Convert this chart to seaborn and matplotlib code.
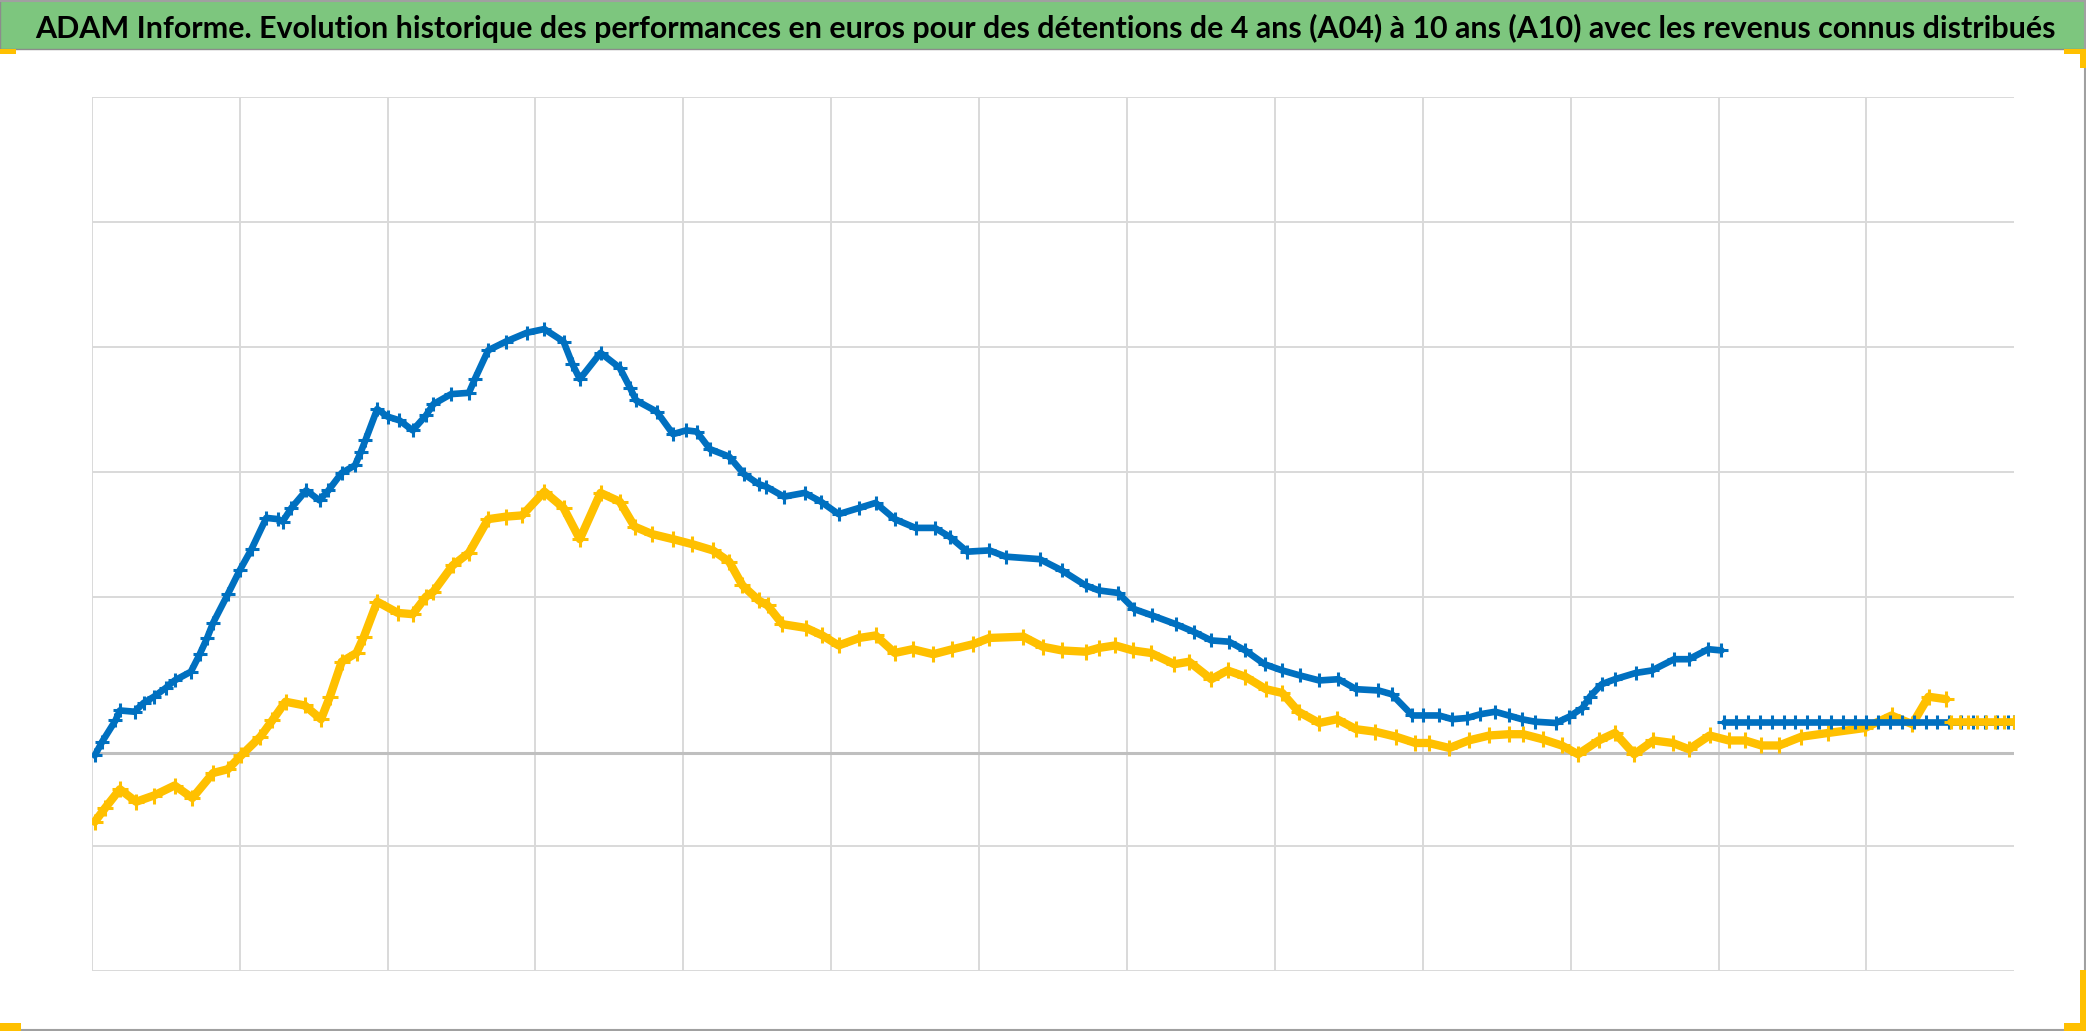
import numpy as np
import pandas as pd
import matplotlib
matplotlib.use("Agg")
import matplotlib.pyplot as plt
import seaborn as sns
from matplotlib.patches import Rectangle
from matplotlib.lines import Line2D

# x in years from start (13 gridline intervals), y in arbitrary euro units (0 = axis line)
blue_x = [0.02, 0.07, 0.16, 0.19, 0.29, 0.35, 0.42, 0.50, 0.56, 0.67,
          0.73, 0.78, 0.82, 0.92, 1.00, 1.08, 1.18, 1.26, 1.29, 1.35,
          1.45, 1.54, 1.60, 1.69, 1.78, 1.82, 1.85, 1.93, 2.00, 2.08,
          2.17, 2.26, 2.31, 2.43, 2.55, 2.59, 2.68, 2.80, 2.94, 3.06,
          3.19, 3.25, 3.30, 3.44, 3.57, 3.64, 3.68, 3.82, 3.93, 4.02,
          4.09, 4.18, 4.31, 4.41, 4.51, 4.56, 4.68, 4.82, 4.93, 5.05,
          5.19, 5.30, 5.43, 5.57, 5.70, 5.80, 5.92, 6.07, 6.18, 6.41,
          6.56, 6.72, 6.81, 6.94, 7.05, 7.17, 7.33, 7.45, 7.57, 7.69,
          7.80, 7.93, 8.05, 8.17, 8.30, 8.43, 8.55, 8.70, 8.79, 8.93,
          9.00, 9.11, 9.20, 9.30, 9.39, 9.49, 9.58, 9.67, 9.76, 9.90,
          9.99, 10.08, 10.13, 10.21, 10.30, 10.44, 10.55, 10.70, 10.80, 10.93, 11.02]
blue_v = [-2, 9, 26, 34, 33, 40, 45, 52, 58, 65,
          79, 92, 104, 127, 146, 163, 188, 187, 185, 196,
          210, 202, 210, 224, 230, 241, 250, 275, 269, 266,
          258, 270, 279, 287, 288, 299, 322, 329, 336, 339,
          329, 311, 299, 320, 308, 292, 282, 273, 255, 258,
          257, 243, 237, 223, 215, 213, 205, 208, 201, 191,
          196, 200, 187, 180, 180, 173, 161, 162, 157, 155,
          146, 134, 130, 128, 115, 110, 103, 97, 90, 89,
          82, 71, 66, 62, 58, 59, 51, 50, 47, 30,
          30, 30, 27, 28, 31, 33, 30, 27, 25, 24,
          29, 36, 45, 55, 59, 64, 66, 75, 75, 83, 82]

blue_flat_x = [11.04, 11.12, 11.20, 11.28, 11.36, 11.44, 11.52, 11.60, 11.68, 11.76,
               11.84, 11.92, 12.00, 12.08, 12.16, 12.24, 12.32, 12.40, 12.48, 12.56,
               12.64, 12.72, 12.80, 12.88, 12.96, 13.00]
blue_flat_v = [24.5, 24.5, 24.5, 24.5, 24.5, 24.5, 24.5, 24.5, 24.5, 24.5,
               24.5, 24.5, 24.5, 24.5, 24.5, 24.5, 24.5, 24.5, 24.5, 24.5,
               24.5, 24.5, 24.5, 24.5, 24.5, 24.5]

yellow_x = [0.02, 0.09, 0.19, 0.30, 0.42, 0.56, 0.68, 0.82, 0.92, 1.01,
            1.14, 1.22, 1.31, 1.44, 1.55, 1.61, 1.69, 1.79, 1.84, 1.93,
            2.07, 2.17, 2.26, 2.31, 2.44, 2.55, 2.68, 2.80, 2.91, 3.06,
            3.19, 3.30, 3.44, 3.57, 3.67, 3.79, 3.93, 4.06, 4.20, 4.31,
            4.40, 4.51, 4.57, 4.67, 4.83, 4.94, 5.05, 5.19, 5.30, 5.43,
            5.55, 5.69, 5.82, 5.96, 6.07, 6.30, 6.43, 6.56, 6.72, 6.81,
            6.92, 7.04, 7.16, 7.32, 7.42, 7.57, 7.68, 7.80, 7.94, 8.05,
            8.16, 8.30, 8.42, 8.55, 8.68, 8.82, 8.95, 9.04, 9.18, 9.31,
            9.45, 9.58, 9.68, 9.81, 9.94, 10.05, 10.19, 10.30, 10.43, 10.56,
            10.69, 10.80, 10.94, 11.07, 11.18, 11.29, 11.41, 11.56, 11.74, 11.99,
            12.17, 12.31, 12.42, 12.54]
yellow_v = [-55, -44, -29, -39, -34, -26, -36, -16, -13, -2,
            13, 26, 41, 38, 27, 45, 73, 80, 93, 121,
            112, 111, 125, 129, 150, 160, 187, 189, 190, 209,
            196, 171, 208, 201, 181, 175, 171, 167, 162, 153,
            134, 122, 118, 103, 100, 94, 86, 92, 94, 80,
            83, 79, 83, 87, 92, 93, 85, 82, 81, 84,
            86, 82, 80, 71, 73, 59, 66, 61, 51, 48,
            33, 24, 27, 19, 17, 13, 8, 8, 4, 10,
            14, 15, 15, 11, 6, -1, 10, 16, -1, 10,
            8, 3, 14, 10, 10, 6, 6, 13, 16, 20,
            30, 23, 45, 43]

yellow_flat_x = [12.57, 12.63, 12.69, 12.75, 12.81, 12.87, 12.93, 13.00]
yellow_flat_v = [24.5, 24.5, 24.5, 24.5, 24.5, 24.5, 24.5, 24.5]

title = ("ADAM Informe. Evolution historique des performances en euros pour des "
         "détentions de 4 ans (A04) à 10 ans (A10) avec les revenus connus distribués")

blue = "#0070C0"
yellow = "#FFC000"

sns.set_style("white")
plt.rcParams['font.family'] = ['Lato', 'DejaVu Sans']

fig = plt.figure(figsize=(20.86, 10.31), dpi=100)
W, H = 2086, 1031
ax = fig.add_axes([91.8 / W, 1 - 971.2 / H, (2014.3 - 91.8) / W, (971.2 - 97.1) / H])

# grid drawn by hand since the reference skips one horizontal line
for xv in range(0, 13):
    ax.axvline(xv, color="#D9D9D9", lw=1.4, zorder=0)
for yv in [-174.5, -74.5, 124.5, 224.5, 324.5, 424.5, 524.5]:
    ax.axhline(yv, color="#D9D9D9", lw=1.4, zorder=0)
ax.axhline(0, color="#BFBFBF", lw=2.2, zorder=1)

def draw(xs, vs, color, lw, ms, z):
    d = pd.DataFrame({"x": xs, "v": vs})
    sns.lineplot(data=d, x="x", y="v", ax=ax, color=color, lw=lw, marker="+",
                 markersize=ms, markeredgewidth=2.2, markeredgecolor=color,
                 zorder=z, sort=False)

draw(yellow_x, yellow_v, yellow, 6.0, 11, 3)
draw(blue_x, blue_v, blue, 4.8, 10, 4)
draw(blue_flat_x, blue_flat_v, blue, 4.8, 10, 4)
draw(yellow_flat_x, yellow_flat_v, yellow, 5.5, 10, 5)

ax.set_xlim(0, 13)
ax.set_ylim(-174.5, 524.5)
ax.set_xticks([])
ax.set_yticks([])
ax.set_xlabel("")
ax.set_ylabel("")
for s in ax.spines.values():
    s.set_visible(False)

# title bar
fig.patches.append(Rectangle((0, 1 - 49 / H), 1, 49 / H, transform=fig.transFigure,
                             facecolor="#7DC67E", edgecolor="#8C8C8C", lw=1.0, zorder=0))
t = fig.text(1045 / W, 1 - 38 / H, title, ha="center", va="baseline",
             fontsize=20, fontweight="bold", color="black")
# fit title to the width it takes in the reference
fig.canvas.draw()
w = t.get_window_extent().width
t.set_fontsize(20 * 2019 / w)

# outer frame (top, right, bottom)
for xs, ys in [([0, 1], [0.9995, 0.9995]), ([0.9995, 0.9995], [0, 1]), ([0, 1], [0.0005, 0.0005])]:
    fig.lines.append(Line2D(xs, ys, transform=fig.transFigure, color="#A0A0A0", lw=1.5, zorder=10))

# yellow corner handles
def px_rect(x0, y0, x1, y1):
    fig.patches.append(Rectangle((x0 / W, 1 - y1 / H), (x1 - x0) / W, (y1 - y0) / H,
                                 transform=fig.transFigure, facecolor=yellow,
                                 edgecolor="none", zorder=11))

px_rect(0, 49, 16, 54)
px_rect(2064, 49, 2086, 54)
px_rect(2080, 49, 2086, 68)
px_rect(0, 1023, 21, 1031)
px_rect(2064, 1023, 2086, 1031)
px_rect(2080, 970, 2086, 1031)

fig.savefig("out.png", dpi=100)
